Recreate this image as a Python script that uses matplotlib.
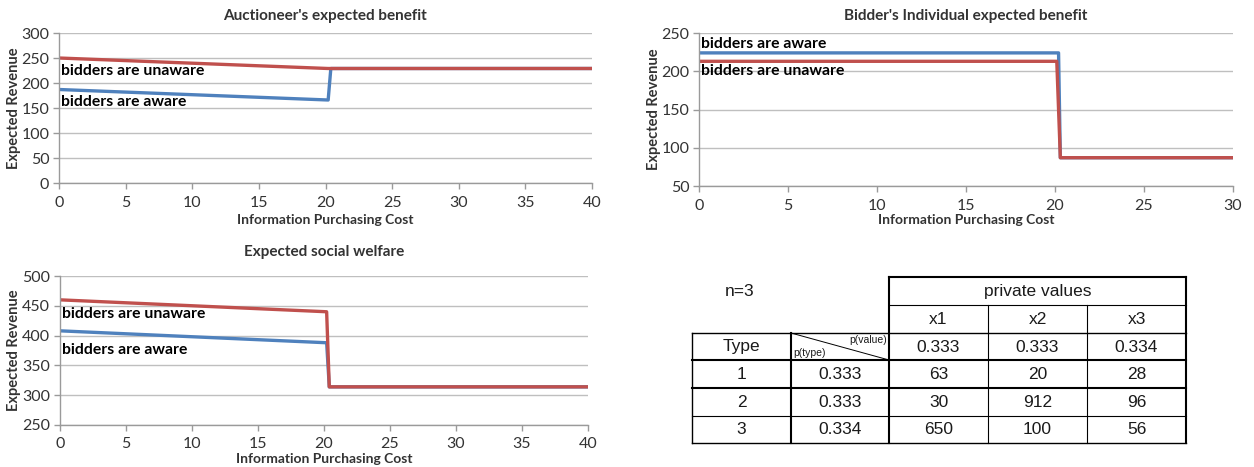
import matplotlib
matplotlib.use("Agg")
import matplotlib.pyplot as plt

plt.rcParams['font.family'] = ['Lato', 'DejaVu Sans']

W, H = 1254, 467

# ---------------- data ----------------
# Auctioneer's expected benefit
cost1 = [0, 20.2, 20.4, 40]
auct_unaware = [250, 229, 229, 229]
auct_aware = [187, 166, 229, 229]

# Bidder's individual expected benefit
cost2_aware = [0, 20.2, 20.3, 30]
bid_aware = [224, 224, 87, 87]
cost2_unaware = [0, 20.1, 20.3, 30]
bid_unaware = [213, 213, 87, 87]

# Expected social welfare
cost3 = [0, 20.2, 20.4, 40]
wel_unaware = [460, 440, 314, 314]
wel_aware = [408, 388, 314, 314]

# Table
n_label = "n=3"
header_label = "private values"
value_cols = ["x1", "x2", "x3"]
p_value = ["0.333", "0.333", "0.334"]
types = ["1", "2", "3"]
p_type = ["0.333", "0.333", "0.334"]
private_values = [[63, 20, 28], [30, 912, 96], [650, 100, 56]]

RED = "#C0504D"
BLUE = "#4F81BD"
GRID = "#BFBFBF"
AXC = "#9A9A9A"
TXT = "#333333"

fig = plt.figure(figsize=(W / 100, H / 100), dpi=100)


def px_axes(l, t, r, b):
    return fig.add_axes([l / W, 1 - b / H, (r - l) / W, (b - t) / H])


def style(ax, xlim, ylim, yticks, xticks, left_px, width_px, ylab_px):
    ax.set_xlim(*xlim)
    ax.set_ylim(*ylim)
    ax.set_yticks(yticks)
    ax.set_xticks(xticks)
    ax.grid(axis='y', color=GRID, lw=1.0)
    ax.set_axisbelow(True)
    for s in ('top', 'right'):
        ax.spines[s].set_visible(False)
    for s in ('left', 'bottom'):
        ax.spines[s].set_color(AXC)
        ax.spines[s].set_linewidth(1.0)
    ax.tick_params(axis='both', colors=AXC, labelcolor=TXT, labelsize=11.5,
                   length=4, width=1.0, direction='out')
    ax.tick_params(axis='x', pad=5)
    ax.tick_params(axis='y', pad=3)
    ax.set_ylabel("Expected Revenue", fontsize=10.5, fontweight='bold',
                  color=TXT, va='center')
    ax.yaxis.set_label_coords((ylab_px - left_px) / width_px, 0.5)


def ftext(x, y, s, **kw):
    fig.text(x / W, 1 - y / H, s, **kw)


LW = 2.4
FS_ANN = 11.3
# ---- plot 1 ----
ax1 = px_axes(59, 33, 592, 183)
style(ax1, (0, 40), (0, 300), range(0, 301, 50), range(0, 41, 5), 59, 533, 14)
ax1.plot(cost1, auct_aware, color=BLUE, lw=LW)
ax1.plot(cost1, auct_unaware, color=RED, lw=LW)
ax1.text(0.15, 224, "bidders are unaware", fontsize=FS_ANN, fontweight='bold',
         color='black', va='center', ha='left')
ax1.text(0.15, 162, "bidders are aware", fontsize=FS_ANN, fontweight='bold',
         color='black', va='center', ha='left')
ftext(325, 16, "Auctioneer's expected benefit", fontsize=11,
      fontweight='bold', ha='center', va='center', color=TXT)
ftext(325, 220, "Information Purchasing Cost", fontsize=10,
      fontweight='bold', ha='center', va='center', color=TXT)

# ---- plot 2 ----
ax2 = px_axes(699, 33, 1233, 186)
style(ax2, (0, 30), (50, 250), range(50, 251, 50), range(0, 31, 5), 699, 534, 654)
ax2.plot(cost2_aware, bid_aware, color=BLUE, lw=LW)
ax2.plot(cost2_unaware, bid_unaware, color=RED, lw=LW)
ax2.text(0.1, 236, "bidders are aware", fontsize=FS_ANN, fontweight='bold',
         color='black', va='center', ha='left')
ax2.text(0.1, 200, "bidders are unaware", fontsize=FS_ANN, fontweight='bold',
         color='black', va='center', ha='left')
ftext(966, 16, "Bidder's Individual expected benefit", fontsize=11,
      fontweight='bold', ha='center', va='center', color=TXT)
ftext(966, 220, "Information Purchasing Cost", fontsize=10,
      fontweight='bold', ha='center', va='center', color=TXT)

# ---- plot 3 ----
ax3 = px_axes(60, 276, 588, 425)
style(ax3, (0, 40), (250, 500), range(250, 501, 50), range(0, 41, 5), 60, 528, 14)
ax3.plot(cost3, wel_aware, color=BLUE, lw=LW)
ax3.plot(cost3, wel_unaware, color=RED, lw=LW)
ax3.text(0.15, 437, "bidders are unaware", fontsize=FS_ANN, fontweight='bold',
         color='black', va='center', ha='left')
ax3.text(0.15, 376, "bidders are aware", fontsize=FS_ANN, fontweight='bold',
         color='black', va='center', ha='left')
ftext(324, 252, "Expected social welfare", fontsize=11,
      fontweight='bold', ha='center', va='center', color=TXT)
ftext(324, 459, "Information Purchasing Cost", fontsize=10,
      fontweight='bold', ha='center', va='center', color=TXT)

# ---- table ----
axt = fig.add_axes([0, 0, 1, 1], zorder=-1)
axt.set_xlim(0, W)
axt.set_ylim(H, 0)
axt.axis('off')

cx = [692, 791, 889, 988, 1087, 1186]
ry = [277, 305, 333, 360, 388, 416, 443]
THICK = 1.5
THIN = 0.8
TF = 'Liberation Sans'
TC = '#1a1a1a'


def hline(y, x0, x1, lw):
    axt.plot([x0, x1], [y, y], color='black', lw=lw, solid_capstyle='projecting')


def vline(x, y0, y1, lw):
    axt.plot([x, x], [y0, y1], color='black', lw=lw, solid_capstyle='projecting')


hline(ry[0], cx[2], cx[5], THICK)
hline(ry[1], cx[2], cx[5], THIN)
hline(ry[2], cx[0], cx[5], 1.0)
hline(ry[3], cx[0], cx[5], THICK)
hline(ry[4], cx[0], cx[5], THICK)
hline(ry[5], cx[0], cx[5], THIN)
hline(ry[6], cx[0], cx[5], 1.0)
vline(cx[0], ry[2], ry[6], 1.0)
vline(cx[1], ry[2], ry[6], THICK)
vline(cx[2], ry[0], ry[6], THICK)
vline(cx[3], ry[1], ry[6], THIN)
vline(cx[4], ry[1], ry[6], THIN)
vline(cx[5], ry[0], ry[6], THICK)
# diagonal
axt.plot([cx[1], cx[2]], [ry[2], ry[3]], color='black', lw=0.7)


def cell(c0, c1, r0, r1, s, size=12.5):
    axt.text((c0 + c1) / 2, (r0 + r1) / 2 + 0.5, s, ha='center', va='center',
             fontsize=size, family=TF, color=TC)


axt.text(740, 292, n_label, ha='center', va='center', fontsize=12.5,
         family=TF, color=TC)
cell(cx[2], cx[5], ry[0], ry[1], header_label)
for j in range(3):
    cell(cx[2 + j], cx[3 + j], ry[1], ry[2], value_cols[j])
    cell(cx[2 + j], cx[3 + j], ry[2], ry[3], p_value[j])
cell(cx[0], cx[1], ry[2], ry[3], "Type")
axt.text(cx[2] - 2, ry[2] + 2, "p(value)", ha='right', va='top', fontsize=7.5,
         family=TF, color=TC)
axt.text(cx[1] + 2, ry[3] - 2, "p(type)", ha='left', va='bottom', fontsize=7.5,
         family=TF, color=TC)
for i in range(3):
    cell(cx[0], cx[1], ry[3 + i], ry[4 + i], types[i])
    cell(cx[1], cx[2], ry[3 + i], ry[4 + i], p_type[i])
    for j in range(3):
        cell(cx[2 + j], cx[3 + j], ry[3 + i], ry[4 + i], str(private_values[i][j]))

fig.savefig("out.png", dpi=100)
